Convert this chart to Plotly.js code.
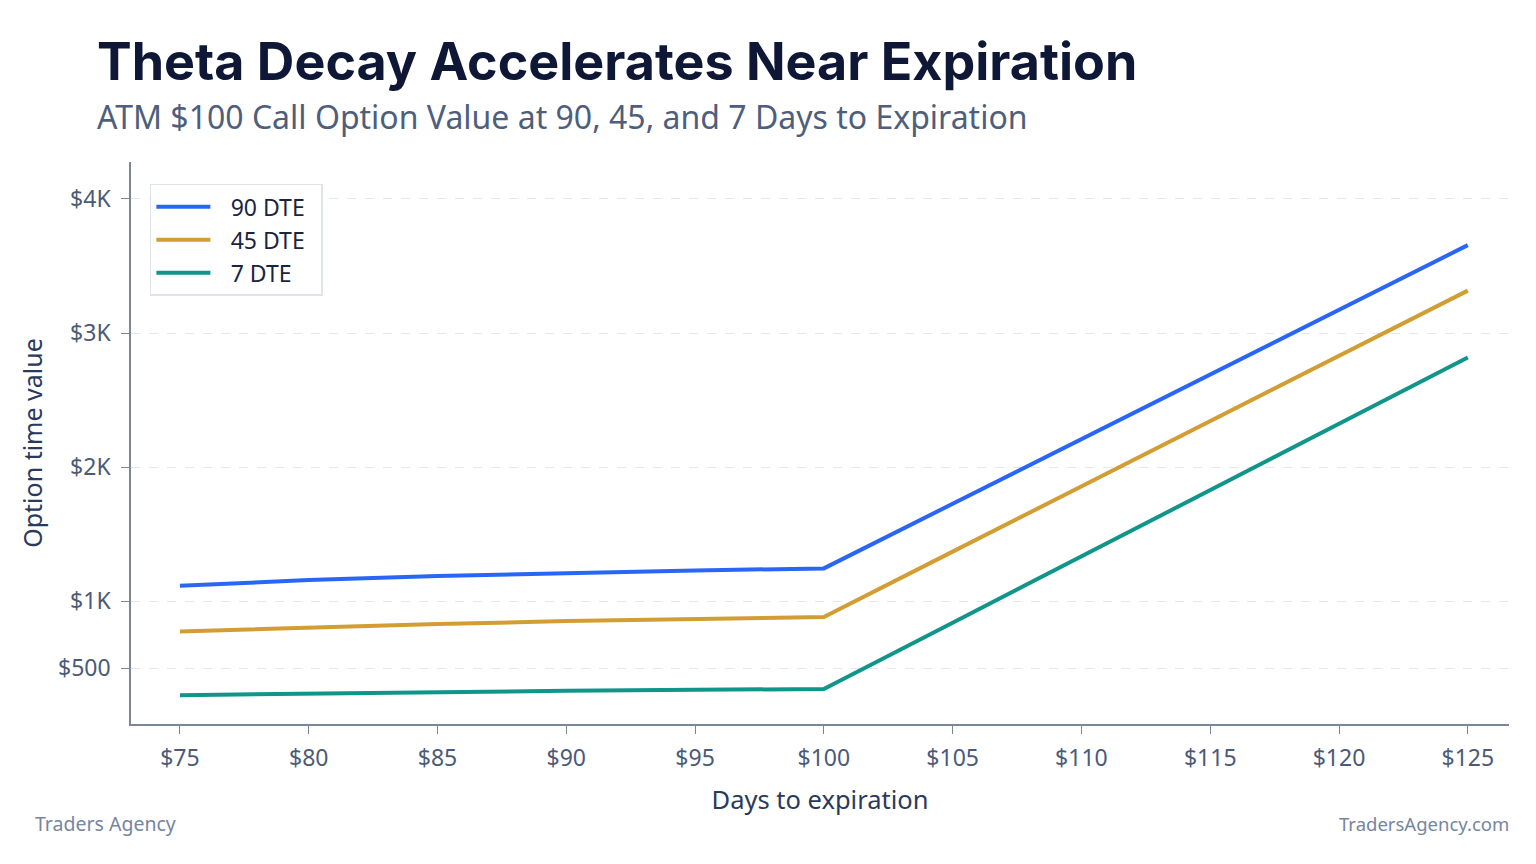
<!DOCTYPE html>
<html>
<head>
<meta charset="utf-8">
<script src="https://cdn.plot.ly/plotly-3.0.1.min.js"></script>
<style>
html,body{margin:0;padding:0;background:#fff;}
#chart{width:1536px;height:864px;}
</style>
</head>
<body>
<div id="chart"></div>
<script>
const strikes = [75, 80, 85, 90, 95, 100, 105, 110, 115, 120, 125];
const dte90 = [1115, 1158, 1188, 1212, 1230, 1245, 1728, 2210, 2692, 3173, 3655];
const dte45 = [775, 806, 830, 852, 868, 882, 1370, 1857, 2343, 2830, 3316];
const dte7 = [300, 312, 322, 332, 340, 346, 840, 1335, 1830, 2325, 2818];
const seriesNames = ["90 DTE", "45 DTE", "7 DTE"];
const seriesColors = ["#2a66f5", "#d29d32", "#10958a"];
const xTickVals = [75, 80, 85, 90, 95, 100, 105, 110, 115, 120, 125];
const xTickText = ["$75", "$80", "$85", "$90", "$95", "$100", "$105", "$110", "$115", "$120", "$125"];
const yTickVals = [500, 1000, 2000, 3000, 4000];
const yTickText = ["$500", "$1K", "$2K", "$3K", "$4K"];

const seriesData = [dte90, dte45, dte7];
const traces = seriesData.map((ys, i) => ({
  x: strikes, y: ys, type: 'scatter', mode: 'lines',
  name: '\u2002\u2009' + seriesNames[i] + '\u2002',
  line: {color: seriesColors[i], width: 4}
}));

const tickFont = {family: 'Noto Sans, Open Sans, sans-serif', size: 23, color: '#4a5a78'};
const layout = {
  width: 1536, height: 864,
  paper_bgcolor: '#ffffff', plot_bgcolor: '#ffffff',
  margin: {l: 131, r: 27, t: 162, b: 140},
  showlegend: true,
  legend: {
    x: 0.0137, y: 0.961, xanchor: 'left', yanchor: 'top',
    bgcolor: '#ffffff', bordercolor: '#dfe4ec', borderwidth: 1.5,
    font: {family: 'Noto Sans, sans-serif', size: 23, color: '#1a2440'},
    tracegroupgap: 0, itemwidth: 54
  },
  xaxis: {
    range: [73.1, 126.6],
    tickvals: xTickVals, ticktext: xTickText,
    tickfont: tickFont,
    ticks: 'outside', ticklen: 8, tickcolor: '#7a869c', tickwidth: 1,
    ticklabelstandoff: 5,
    showline: true, linecolor: '#7a869c', linewidth: 1.5,
    showgrid: false, zeroline: false,
    title: {text: 'Days to expiration', font: {family: 'Noto Sans, sans-serif', size: 25.5, color: '#2a3a5c'}, standoff: 19}
  },
  yaxis: {
    range: [85, 4275],
    tickvals: yTickVals, ticktext: yTickText,
    tickfont: tickFont,
    ticks: 'outside', ticklen: 8, tickcolor: '#7a869c', tickwidth: 1,
    ticklabelstandoff: 6,
    showline: true, linecolor: '#7a869c', linewidth: 1.5,
    showgrid: true, gridcolor: '#e3e8f0', gridwidth: 1, griddash: 'dash',
    zeroline: false,
    title: {text: 'Option time value', font: {family: 'Noto Sans, sans-serif', size: 25, color: '#2a3a5c'}, standoff: 8}
  },
  annotations: [
    {text: '<b>Theta Decay Accelerates Near Expiration</b>', showarrow: false,
     font: {family: 'Inter, Lato, sans-serif', size: 52, color: '#0e1836', weight: 800}},
    {text: 'ATM $100 Call Option Value at 90, 45, and 7 Days to Expiration', showarrow: false,
     font: {family: 'Noto Sans, sans-serif', size: 32, color: '#4e5e7c'}},
    {text: 'Traders Agency', showarrow: false, font: {family: 'Noto Sans, sans-serif', size: 19.5, color: '#7585a2'}},
    {text: 'TradersAgency.com', showarrow: false, font: {family: 'Noto Sans, sans-serif', size: 18.5, color: '#7585a2'}}
  ]
};
const plotW = 1536 - 131 - 27, plotH = 864 - 162 - 140;
function px(x){return (x - 131) / plotW;}
function py(y){return (864 - 140 - y) / plotH;}
const ann = layout.annotations;
Object.assign(ann[0], {xref:'paper', yref:'paper', x: px(95), y: py(62), xanchor:'left', yanchor:'middle'});
Object.assign(ann[1], {xref:'paper', yref:'paper', x: px(95), y: py(117), xanchor:'left', yanchor:'middle'});
Object.assign(ann[2], {xref:'paper', yref:'paper', x: px(33), y: py(823), xanchor:'left', yanchor:'middle'});
Object.assign(ann[3], {xref:'paper', yref:'paper', x: px(1511), y: py(823), xanchor:'right', yanchor:'middle'});

Plotly.newPlot('chart', traces, layout, {displayModeBar: false, responsive: false});
</script>
</body>
</html>
